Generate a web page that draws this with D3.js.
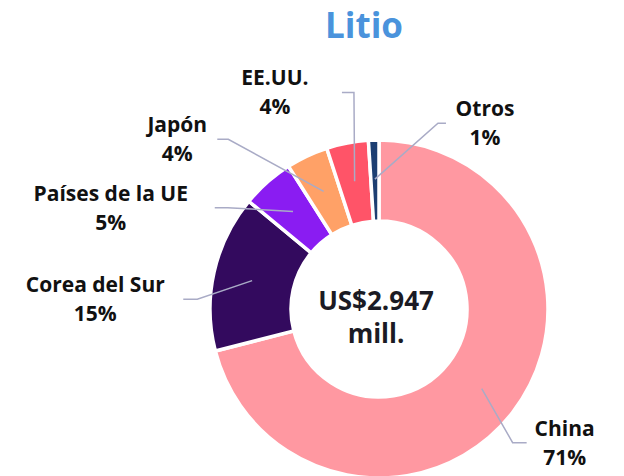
<!DOCTYPE html>
<html>
<head>
<meta charset="utf-8">
<script src="https://cdn.jsdelivr.net/npm/d3@7"></script>
<style>
  html, body { margin: 0; padding: 0; background: #fff; }
  svg { display: block; font-family: "Open Sans", "Noto Sans", sans-serif; }
</style>
</head>
<body>
<svg id="chart" width="624" height="476"></svg>
<script>
// Lithium: share by destination (percent)
const categories = ["China", "Corea del Sur", "Países de la UE", "Japón", "EE.UU.", "Otros"];
const shares = [71, 15, 5, 4, 4, 1];
const colors = ["#ff98a1", "#330a5e", "#8a1cf2", "#ffa167", "#ff5468", "#1d3f72"];
const title = "Litio";
const centerLines = ["US$2.947", "mill."];

// Label placement: elbow of the leader line (polar, degrees clockwise from top),
// horizontal tail length and text-centre offset from the tail end.
const labelLayout = [
  { angle: 135.0, radius: 189, tail: 14, textDx: 38 },
  { angle: 273.1, radius: 182, tail: -14, textDx: -88 },
  { angle: 303.8, radius: 182, tail: -13, textDx: -104 },
  { angle: 318.4, radius: 227, tail: -11, textDx: -40 },
  { angle: 353.4, radius: 218, tail: -12, textDx: -67 },
  { angle: 17.6, radius: 195, tail: 8, textDx: 39 }
];

const svg = d3.select("#chart");
const cx = 379, cy = 309;
const outerR = 169, innerR = 88, lineR = 130;

svg.append("text")
  .attr("x", 364).attr("y", 38)
  .attr("text-anchor", "middle")
  .attr("font-size", 35).attr("font-weight", 700)
  .attr("fill", "#4a93dc")
  .text(title);

const g = svg.append("g").attr("transform", `translate(${cx},${cy})`);

const pie = d3.pie().sort(null).value(d => d.value);
const data = pie(categories.map((c, i) => ({ name: c, value: shares[i], color: colors[i], layout: labelLayout[i] })));

const arc = d3.arc().innerRadius(innerR).outerRadius(outerR);
const midArc = d3.arc().innerRadius(lineR).outerRadius(lineR);

g.selectAll("path.slice")
  .data(data)
  .join("path")
  .attr("class", "slice")
  .attr("d", arc)
  .attr("fill", d => d.data.color)
  .attr("stroke", "#fff")
  .attr("stroke-width", 3.5)
  .attr("stroke-linejoin", "miter");

const polar = (deg, r) => {
  const a = deg * Math.PI / 180;
  return [r * Math.sin(a), -r * Math.cos(a)];
};

const labels = g.selectAll("g.label")
  .data(data)
  .join("g")
  .attr("class", "label");

labels.append("polyline")
  .attr("fill", "none")
  .attr("stroke", "#a9abc6")
  .attr("stroke-width", 1.5)
  .attr("points", d => {
    const start = midArc.centroid(d);
    const elbow = polar(d.data.layout.angle, d.data.layout.radius);
    const end = [elbow[0] + d.data.layout.tail, elbow[1]];
    return [start, elbow, end].map(p => p.join(",")).join(" ");
  });

const labelX = d => polar(d.data.layout.angle, d.data.layout.radius)[0] + d.data.layout.tail + d.data.layout.textDx;
const labelY = d => polar(d.data.layout.angle, d.data.layout.radius)[1];

labels.append("text")
  .attr("text-anchor", "middle")
  .attr("font-size", 21)
  .attr("font-weight", 700)
  .attr("fill", "#111")
  .attr("x", labelX)
  .attr("y", d => labelY(d) - 7)
  .text(d => d.data.name);

labels.append("text")
  .attr("text-anchor", "middle")
  .attr("font-size", 21)
  .attr("font-weight", 700)
  .attr("fill", "#111")
  .attr("x", labelX)
  .attr("y", d => labelY(d) + 22)
  .text(d => d.data.value + "%");

// Total in the hole of the donut
g.selectAll("text.total")
  .data(centerLines)
  .join("text")
  .attr("class", "total")
  .attr("text-anchor", "middle")
  .attr("font-size", 26)
  .attr("font-weight", 700)
  .attr("fill", "#1b1b24")
  .attr("x", -3)
  .attr("y", (d, i) => 1 + i * 33)
  .text(d => d);
</script>
</body>
</html>
